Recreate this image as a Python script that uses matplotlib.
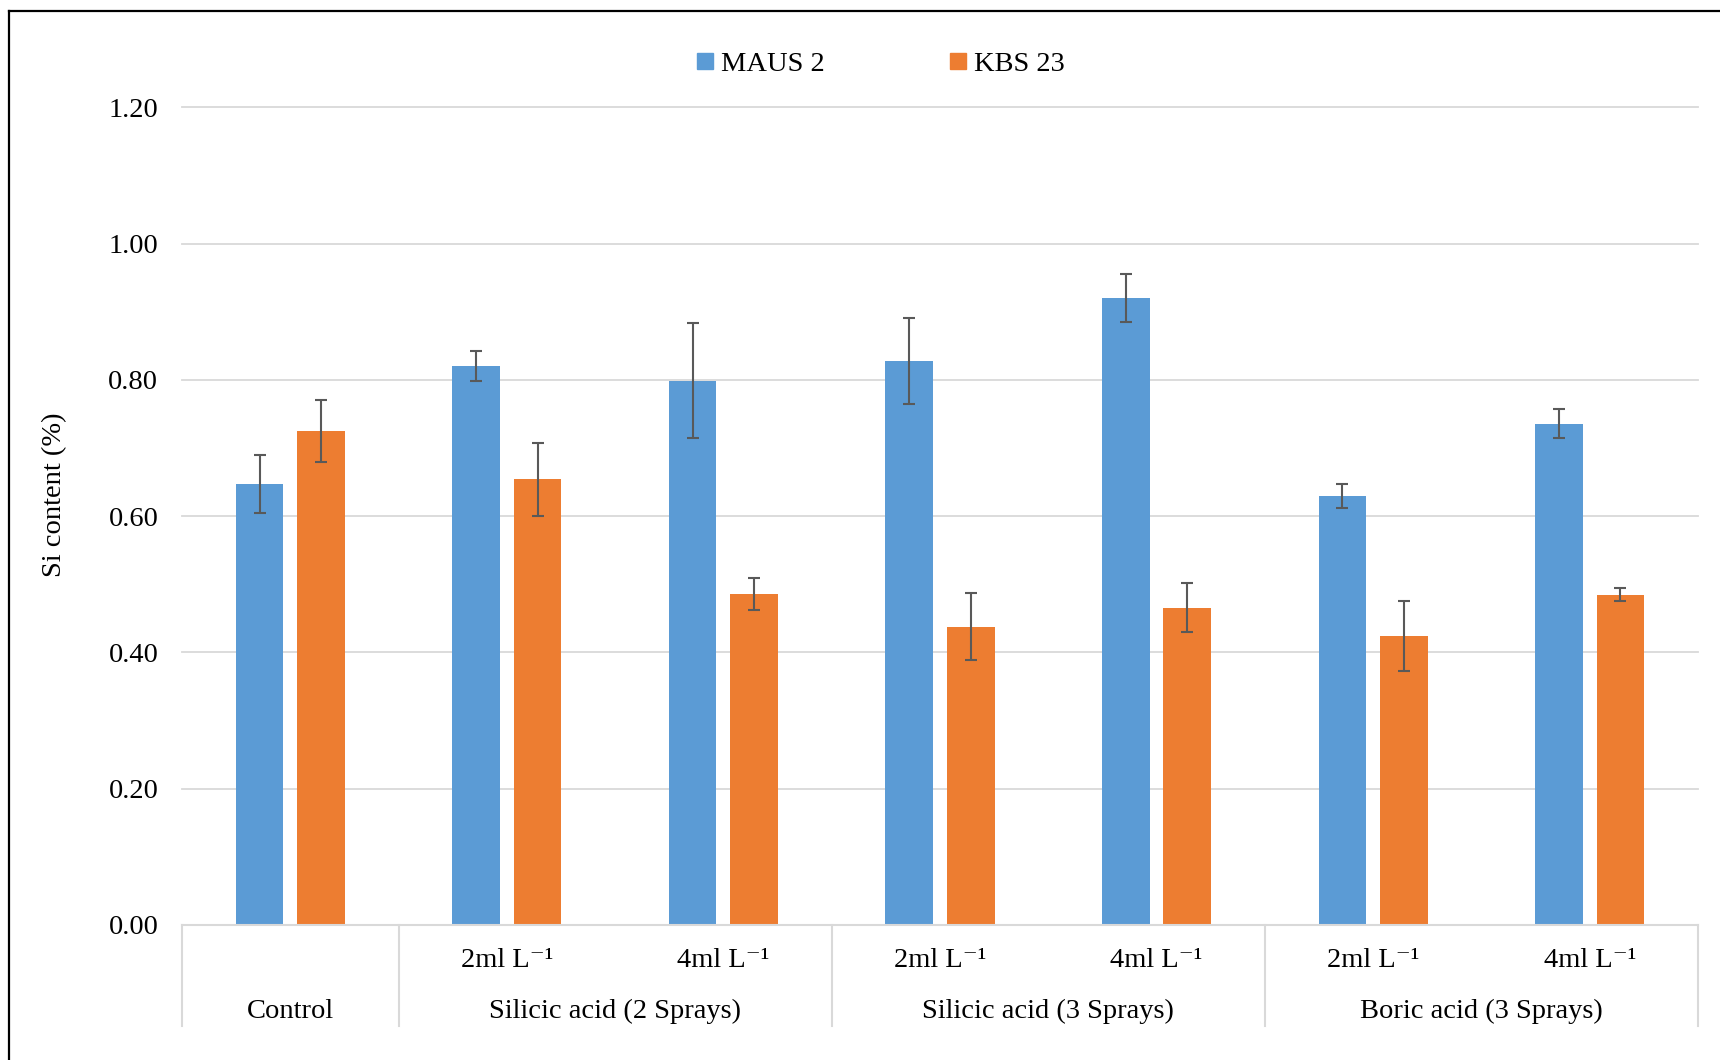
import matplotlib
matplotlib.use("Agg")
import matplotlib.pyplot as plt
import matplotlib.transforms as mtransforms
from matplotlib.lines import Line2D
import numpy as np

plt.rcParams['font.family'] = ['Liberation Serif', 'DejaVu Serif']
plt.rcParams['font.size'] = 20.5

# data
groups = ["Control", "Silicic acid (2 Sprays)", "Silicic acid (3 Sprays)", "Boric acid (3 Sprays)"]
group_sizes = [1, 2, 2, 2]
doses = ["", "2ml L\u207b\u00b9", "4ml L\u207b\u00b9", "2ml L\u207b\u00b9", "4ml L\u207b\u00b9",
         "2ml L\u207b\u00b9", "4ml L\u207b\u00b9"]
series_names = ["MAUS 2", "KBS 23"]
maus = [0.647, 0.820, 0.799, 0.828, 0.920, 0.630, 0.736]
maus_err = [0.043, 0.022, 0.084, 0.063, 0.035, 0.018, 0.021]
kbs = [0.725, 0.654, 0.486, 0.438, 0.466, 0.424, 0.485]
kbs_err = [0.046, 0.053, 0.023, 0.049, 0.036, 0.051, 0.009]
yticks = [0.0, 0.2, 0.4, 0.6, 0.8, 1.0, 1.2]

blue = "#5B9BD5"
orange = "#ED7D31"
grid_c = "#D9D9D9"
err_c = "#595959"

fig = plt.figure(figsize=(17.2, 10.6), dpi=100)
ax = fig.add_axes([0.1058, 0.1274, 0.8814, 0.7712])

x = np.arange(len(maus))
w = 0.22
off = 0.142
ekw = dict(ecolor=err_c, elinewidth=1.5, capsize=4, capthick=1.5)
ax.bar(x - off, maus, w, color=blue, yerr=maus_err, error_kw=ekw, zorder=3)
ax.bar(x + off, kbs, w, color=orange, yerr=kbs_err, error_kw=ekw, zorder=3)

ax.set_xlim(-0.5, len(maus) - 0.5)
ax.set_ylim(0, 1.2)
for t in yticks[1:]:
    ax.axhline(t, color=grid_c, lw=1.3, zorder=1, clip_on=False)
ax.axhline(0, color=grid_c, lw=1.5, zorder=4, clip_on=False)
for s in ax.spines.values():
    s.set_visible(False)
ax.set_yticks(yticks)
ax.set_yticklabels([f"{t:.2f}" for t in yticks])
ax.tick_params(axis='y', length=0, pad=17)
ax.set_xticks([])
ax.set_ylabel("Si content (%)")
ax.yaxis.set_label_coords(-0.0757, 0.526)

# two level category axis
trans = mtransforms.blended_transform_factory(ax.transData, ax.transAxes)
for i, d in enumerate(doses):
    ax.text(i, -0.044, d, transform=trans, ha='center', va='center')
edges = np.concatenate([[0], np.cumsum(group_sizes)]) - 0.5
for e in edges:
    ax.add_line(Line2D([e, e], [0, -0.1236], transform=trans, color=grid_c,
                       lw=1.5, clip_on=False))
for g, a, b in zip(groups, edges[:-1], edges[1:]):
    ax.text((a + b) / 2, -0.106, g, transform=trans, ha='center', va='center')

handles = [Line2D([], [], marker='s', ls='', color=blue, markersize=11),
           Line2D([], [], marker='s', ls='', color=orange, markersize=11)]
fig.legend(handles, series_names, loc='center', bbox_to_anchor=(0.512, 0.940),
           ncol=2, frameon=False, handlelength=0.6, handletextpad=0.25,
           columnspacing=4.4)

# outer frame (top and left visible)
fig.add_artist(Line2D([0.0052, 0.0052], [0, 0.9896], color='black', lw=1.6,
                      transform=fig.transFigure))
fig.add_artist(Line2D([0.0052, 1], [0.9896, 0.9896], color='black', lw=1.6,
                      transform=fig.transFigure))

fig.savefig("out.png", dpi=100, facecolor='white')
